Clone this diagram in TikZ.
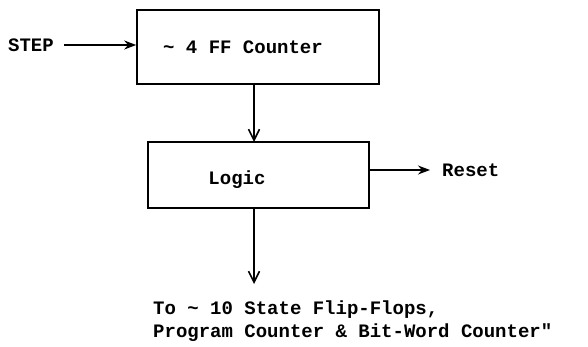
\documentclass[tikz,border=0pt]{standalone}
\usepackage{fontspec}
\setmonofont{Liberation Mono}
\usetikzlibrary{arrows.meta}
\begin{document}
\begin{tikzpicture}[x=1pt,y=-1pt,
  blk/.style={draw,line width=1.6pt,inner sep=0pt},
  lbl/.style={font=\ttfamily\bfseries\fontsize{19}{23}\selectfont,inner sep=0pt},
  conn/.style={line width=1.6pt,-{Stealth[length=12pt,width=9pt]}},
  vconn/.style={line width=1.6pt,-{Straight Barb[length=11pt,width=11pt,line width=1.6pt]}}]
\useasboundingbox (0,0) rectangle (588,347);
\node[blk,minimum width=242pt,minimum height=74pt] (ff) at (258,47) {};
\node[lbl] (fft) at (243,47) {\textasciitilde\ 4 FF Counter};
\node[blk,minimum width=221pt,minimum height=66pt] (lg) at (258.5,175) {};
\node[lbl] (lgt) at (237,180) {Logic};
\node[lbl,anchor=west] (step) at (8,45) {STEP};
\coordinate (ffin) at (ff.west |- step);
\draw[conn] (step.east) ++(10,0) coordinate (s0) (s0) -- (ffin);
\coordinate (a0) at (254,85);
\coordinate (a1) at (254,142);
\draw[vconn] (a0) -- (a1);
\node[lbl,anchor=west] (reset) at (442,170) {Reset};
\coordinate (rs) at (lg.east |- reset);
\draw[conn] (rs) -- ([xshift=-12pt]reset.west);
\coordinate (b0) at (254,208);
\coordinate (b1) at (254,284);
\draw[vconn] (b0) -- (b1);
\node[lbl,anchor=north west,align=left] (to) at (153,301) {To \textasciitilde\ 10 State Flip-Flops,\\Program Counter \& Bit-Word Counter"};
\end{tikzpicture}
\end{document}
